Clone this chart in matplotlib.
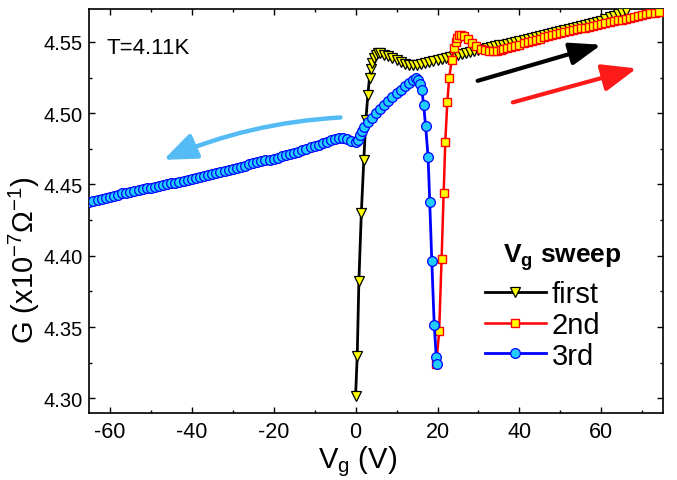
import matplotlib
matplotlib.use("Agg")
import matplotlib.pyplot as plt
from matplotlib.ticker import MultipleLocator, FormatStrFormatter

plt.rcParams['font.family'] = ['Liberation Sans', 'DejaVu Sans']
plt.rcParams['mathtext.fontset'] = 'custom'
plt.rcParams['mathtext.rm'] = 'Liberation Sans'
plt.rcParams['mathtext.bf'] = 'Liberation Sans:bold'
plt.rcParams['mathtext.it'] = 'Liberation Sans:italic'
plt.rcParams['axes.unicode_minus'] = False

# ---- data (Vg in V, G in 1e-7 S) ----
first_vg = [0.0, 0.4, 0.8, 1.4, 2.0, 2.5, 3.0, 3.4, 3.7, 4.0, 4.5, 5.0, 5.5, 6.0,
            7, 8, 9, 10, 11, 12, 13, 14, 15, 16, 17, 18, 19, 20, 21, 22, 23, 24, 25,
            26, 27, 28, 29, 30, 31, 32, 33, 34, 35, 36, 37, 38, 39, 40, 41, 42, 43,
            44, 45, 46, 47, 48, 49, 50, 51, 52, 53, 54, 55, 56, 57, 58, 59, 60, 61,
            62, 63, 64, 65, 66]
first_g = [4.302, 4.330, 4.382, 4.430, 4.467, 4.495, 4.513, 4.525, 4.531, 4.535,
           4.539, 4.541, 4.542, 4.542,
           4.5410, 4.5398, 4.5386, 4.5372, 4.5358, 4.5346, 4.5338, 4.5335, 4.5339,
           4.5346, 4.5353, 4.5360, 4.5368, 4.5375, 4.5382, 4.5389, 4.5396, 4.5403,
           4.5410, 4.5417, 4.5423, 4.5430, 4.5437, 4.5443, 4.5450, 4.5456, 4.5462,
           4.5469, 4.5475, 4.5481, 4.5487, 4.5494, 4.5500, 4.5507, 4.5514, 4.5521,
           4.5527, 4.5534, 4.5541, 4.5548, 4.5555, 4.5562, 4.5569, 4.5577, 4.5584,
           4.5591, 4.5599, 4.5606, 4.5613, 4.5620, 4.5628, 4.5635, 4.5643, 4.5650,
           4.5661, 4.5672, 4.5683, 4.5694, 4.5705, 4.5715]

second_vg = [19.7, 20.4, 21.0, 21.5, 21.9, 22.4, 22.85, 23.5, 24.0, 24.4, 24.8, 25.3,
             25.8, 26.5, 27.5, 28.5, 29.5, 30.5, 31.5, 32.5, 33.5, 34.5, 35.5,
             36, 37, 38, 39, 40, 41, 42, 43, 44, 45, 46, 47, 48, 49, 50, 51, 52, 53,
             54, 55, 56, 57, 58, 59, 60, 61, 62, 63, 64, 65, 66, 67, 68, 69, 70, 71,
             72, 73, 74]
second_g = [4.324, 4.347, 4.398, 4.444, 4.480, 4.508, 4.525, 4.5375, 4.5455, 4.5500,
            4.5530, 4.5545, 4.5548, 4.5542, 4.5520, 4.5495, 4.5470, 4.5452, 4.5440,
            4.5434, 4.5433, 4.5436, 4.5441,
            4.5449, 4.5458, 4.5466, 4.5473, 4.5481, 4.5490, 4.5498, 4.5507, 4.5515,
            4.5523, 4.5532, 4.5540, 4.5547, 4.5553, 4.5560, 4.5567, 4.5574, 4.5580,
            4.5587, 4.5594, 4.5600, 4.5607, 4.5614, 4.5620, 4.5627, 4.5633, 4.5639,
            4.5645, 4.5651, 4.5657, 4.5664, 4.5670, 4.5676, 4.5682, 4.5688, 4.5694,
            4.5700, 4.5706, 4.5712]

third_vg = [-65, -64, -63, -62, -61, -60, -59, -58, -57, -56, -55, -54, -53, -52, -51,
            -50, -49, -48, -47, -46, -45, -44, -43, -42, -41, -40, -39, -38, -37, -36,
            -35, -34, -33, -32, -31, -30, -29, -28, -27, -26, -25, -24, -23, -22, -21,
            -20, -19, -18, -17, -16, -15, -14, -13, -12, -11, -10, -9, -8, -7, -6, -5,
            -4, -3, -2, -1, 0, 0.5, 1, 1.5, 2, 3, 4, 5, 6, 7, 8, 9, 10, 11, 12, 13, 14,
            14.7, 15.2, 15.7, 16.2, 16.6, 17.1, 17.7, 18.1, 18.6, 19.2, 19.7, 19.8]
third_g = [4.4375, 4.4382, 4.4390, 4.4398, 4.4405, 4.4412, 4.4420, 4.4428, 4.4437,
           4.4443, 4.4448, 4.4454, 4.4460, 4.4466, 4.4472, 4.4478, 4.4485, 4.4491,
           4.4496, 4.4502, 4.4508, 4.4514, 4.4520, 4.4527, 4.4534, 4.4541, 4.4548,
           4.4555, 4.4561, 4.4567, 4.4573, 4.4580, 4.4587, 4.4594, 4.4601, 4.4608,
           4.4616, 4.4624, 4.4633, 4.4642, 4.4650, 4.4657, 4.4663, 4.4669, 4.4675,
           4.4682, 4.4689, 4.4697, 4.4705, 4.4713, 4.4721, 4.4730, 4.4740, 4.4750,
           4.4760, 4.4770, 4.4780, 4.4790, 4.4800, 4.4810, 4.4818, 4.4823, 4.4825,
           4.4820, 4.4808, 4.4798, 4.4815, 4.4845, 4.4878, 4.4905, 4.4940, 4.4968,
           4.4998, 4.5030, 4.5060, 4.5088, 4.5113, 4.5140, 4.5165, 4.5190, 4.5215,
           4.5235, 4.5244, 4.5232, 4.5205, 4.5160, 4.5060, 4.4910, 4.4694, 4.4379,
           4.3965, 4.3514, 4.3288, 4.3241]

series_labels = ['first', '2nd', '3rd']
legend_title = r'V$_\mathbf{g}$ sweep'
temp_label = 'T=4.11K'

# ---- figure ----
fig = plt.figure(figsize=(6.77, 4.81), dpi=100)
ax = fig.add_axes([0.132, 0.140, 0.847, 0.839])

l1, = ax.plot(first_vg, first_g, color='black', lw=2.0, marker='v', ms=7,
              mfc='#ffff00', mec='black', mew=0.9, label=series_labels[0], zorder=3)
l2, = ax.plot(second_vg, second_g, color='#ff0000', lw=1.8, marker='s', ms=5.5,
              mfc='#ffff00', mec='#ff0000', mew=1.0, label=series_labels[1], zorder=4)
l3, = ax.plot(third_vg, third_g, color='#0000ff', lw=2.0, marker='o', ms=7,
              mfc='#22ccff', mec='#0000ff', mew=0.9, label=series_labels[2], zorder=5)

ax.set_xlim(-65, 75)
ax.set_ylim(4.29, 4.573)
ax.xaxis.set_major_locator(MultipleLocator(20))
ax.xaxis.set_minor_locator(MultipleLocator(10))
ax.yaxis.set_major_locator(MultipleLocator(0.05))
ax.yaxis.set_minor_locator(MultipleLocator(0.025))
ax.yaxis.set_major_formatter(FormatStrFormatter('%.2f'))
ax.tick_params(which='both', direction='in', top=True, right=True, width=1.0)
ax.tick_params(axis='x', pad=6, labelsize=15.5)
ax.tick_params(axis='y', pad=5, labelsize=14.5)
ax.tick_params(which='major', length=4.5)
ax.tick_params(which='minor', length=2.5)
for s in ax.spines.values():
    s.set_linewidth(1.2)

ax.set_xlabel(r'V$_\mathregular{g}$ (V)', fontsize=21)
ax.xaxis.set_label_coords(0.468, -0.075)
ax.set_ylabel(r'G (x10$^\mathregular{-7}$$\mathregular{\Omega}^\mathregular{-1}$)',
              fontsize=21)
ax.yaxis.set_label_coords(-0.083, 0.38)

ax.text(0.03, 0.906, temp_label, transform=ax.transAxes, fontsize=16,
        ha='left', va='center')

# arrows
ax.annotate('', xy=(60.0, 4.548), xytext=(29.8, 4.5227),
            arrowprops=dict(arrowstyle='-|>,head_length=1.0,head_width=0.36',
                            mutation_scale=19, lw=3.0, color='black',
                            shrinkA=0, shrinkB=0))
ax.annotate('', xy=(68.6, 4.5314), xytext=(38.4, 4.5076),
            arrowprops=dict(arrowstyle='-|>,head_length=1.0,head_width=0.4',
                            mutation_scale=21, lw=3.0, color='#ff1a1a',
                            shrinkA=0, shrinkB=0))
ax.annotate('', xy=(-46.9, 4.4673), xytext=(-3.7, 4.497),
            arrowprops=dict(arrowstyle='-|>,head_length=1.0,head_width=0.4',
                            mutation_scale=20, lw=3.2, color='#55bbf5',
                            shrinkA=0, shrinkB=0,
                            connectionstyle='arc3,rad=0.09'))

leg = ax.legend(handles=[l1, l2, l3], loc='upper left',
                bbox_to_anchor=(0.669, 0.358), frameon=False, fontsize=21,
                handlelength=2.1, handletextpad=0.2, labelspacing=0.1,
                borderaxespad=0.0)
ax.text(0.824, 0.387, legend_title, transform=ax.transAxes, fontsize=19,
        fontweight='bold', ha='center', va='center')

fig.savefig('out.png', dpi=100)
